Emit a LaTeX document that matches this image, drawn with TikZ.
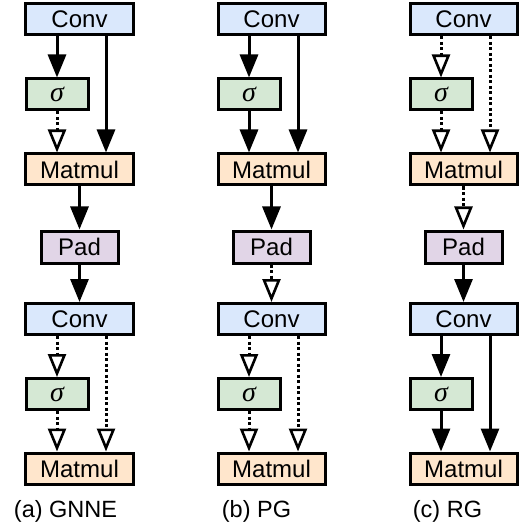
\documentclass[tikz,border=0pt]{standalone}
\usepackage{fontspec}
\setmainfont{Liberation Sans}
\newfontfamily\sigfont{Liberation Serif}
\usetikzlibrary{arrows.meta}
\definecolor{convc}{HTML}{DAE8FC}
\definecolor{sigc}{HTML}{D5E8D4}
\definecolor{matc}{HTML}{FFE6CC}
\definecolor{padc}{HTML}{E1D5E7}
\tikzset{
  box/.style={draw, line width=3bp, inner sep=0pt, minimum height=31bp,
    font=\fontsize{24bp}{28bp}\selectfont},
  conv/.style={box, fill=convc, minimum width=107bp},
  sig/.style={box, fill=sigc, minimum width=62bp, font=\fontsize{28bp}{30bp}\sigfont\itshape},
  mat/.style={box, fill=matc, minimum width=107bp},
  pad/.style={box, fill=padc, minimum width=77bp, minimum height=32bp},
  sol/.style={line width=3bp, -{Triangle[length=23bp,width=18bp]}},
  dot/.style={line width=3bp, dash pattern=on 3bp off 2.5bp,
    -{Triangle[open,length=23bp,width=18bp,fill=white,line width=2.6bp]}},
  captxt/.style={anchor=base, font=\fontsize{23.5bp}{28bp}\selectfont}
}
\begin{document}
\begin{tikzpicture}[x=1bp,y=-1bp]
\useasboundingbox (0,0) rectangle (519,527);
% column a
\node[conv] (ac1) at (79.5,19.5) {Conv};
\node[sig]  (as1) at (57,94.5) {σ};
\node[mat]  (am1) at (79.5,169.5) {Matmul};
\node[pad]  (ap)  at (79.5,247) {Pad};
\node[conv] (ac2) at (79.5,319) {Conv};
\node[sig]  (as2) at (57,394) {σ};
\node[mat]  (am2) at (79.5,468.5) {Matmul};
\node[captxt]  (acap) at (65.5,517) {(a) GNNE};
\draw[sol] (ac1.south -| as1.north) -- (as1.north);
\draw[dot] (as1.south) -- (am1.north -| as1.south);
\draw[sol] ([xshift=26.5bp]ac1.south) -- ([xshift=26.5bp]am1.north);
\draw[sol] (am1.south) -- (ap.north);
\draw[sol] (ap.south) -- (ac2.north);
\draw[dot] (ac2.south -| as2.north) -- (as2.north);
\draw[dot] (as2.south) -- (am2.north -| as2.south);
\draw[dot] ([xshift=26.5bp]ac2.south) -- ([xshift=26.5bp]am2.north);
% column b
\node[conv] (bc1) at (271.5,19.5) {Conv};
\node[sig]  (bs1) at (249,94.5) {σ};
\node[mat]  (bm1) at (271.5,169.5) {Matmul};
\node[pad]  (bp)  at (271.5,247) {Pad};
\node[conv] (bc2) at (271.5,319) {Conv};
\node[sig]  (bs2) at (249,394) {σ};
\node[mat]  (bm2) at (271.5,468.5) {Matmul};
\node[captxt]  (bcap) at (256.5,517) {(b) PG};
\draw[sol] (bc1.south -| bs1.north) -- (bs1.north);
\draw[sol] (bs1.south) -- (bm1.north -| bs1.south);
\draw[sol] ([xshift=26.5bp]bc1.south) -- ([xshift=26.5bp]bm1.north);
\draw[sol] (bm1.south) -- (bp.north);
\draw[dot] (bp.south) -- (bc2.north);
\draw[dot] (bc2.south -| bs2.north) -- (bs2.north);
\draw[dot] (bs2.south) -- (bm2.north -| bs2.south);
\draw[dot] ([xshift=26.5bp]bc2.south) -- ([xshift=26.5bp]bm2.north);
% column c
\node[conv] (cc1) at (463.5,19.5) {Conv};
\node[sig]  (cs1) at (441,94.5) {σ};
\node[mat]  (cm1) at (463.5,169.5) {Matmul};
\node[pad]  (cp)  at (463.5,247) {Pad};
\node[conv] (cc2) at (463.5,319) {Conv};
\node[sig]  (cs2) at (441,394) {σ};
\node[mat]  (cm2) at (463.5,468.5) {Matmul};
\node[captxt]  (ccap) at (447.5,517) {(c) RG};
\draw[dot] (cc1.south -| cs1.north) -- (cs1.north);
\draw[dot] (cs1.south) -- (cm1.north -| cs1.south);
\draw[dot] ([xshift=26.5bp]cc1.south) -- ([xshift=26.5bp]cm1.north);
\draw[dot] (cm1.south) -- (cp.north);
\draw[sol] (cp.south) -- (cc2.north);
\draw[sol] (cc2.south -| cs2.north) -- (cs2.north);
\draw[sol] (cs2.south) -- (cm2.north -| cs2.south);
\draw[sol] ([xshift=26.5bp]cc2.south) -- ([xshift=26.5bp]cm2.north);
\end{tikzpicture}
\end{document}
